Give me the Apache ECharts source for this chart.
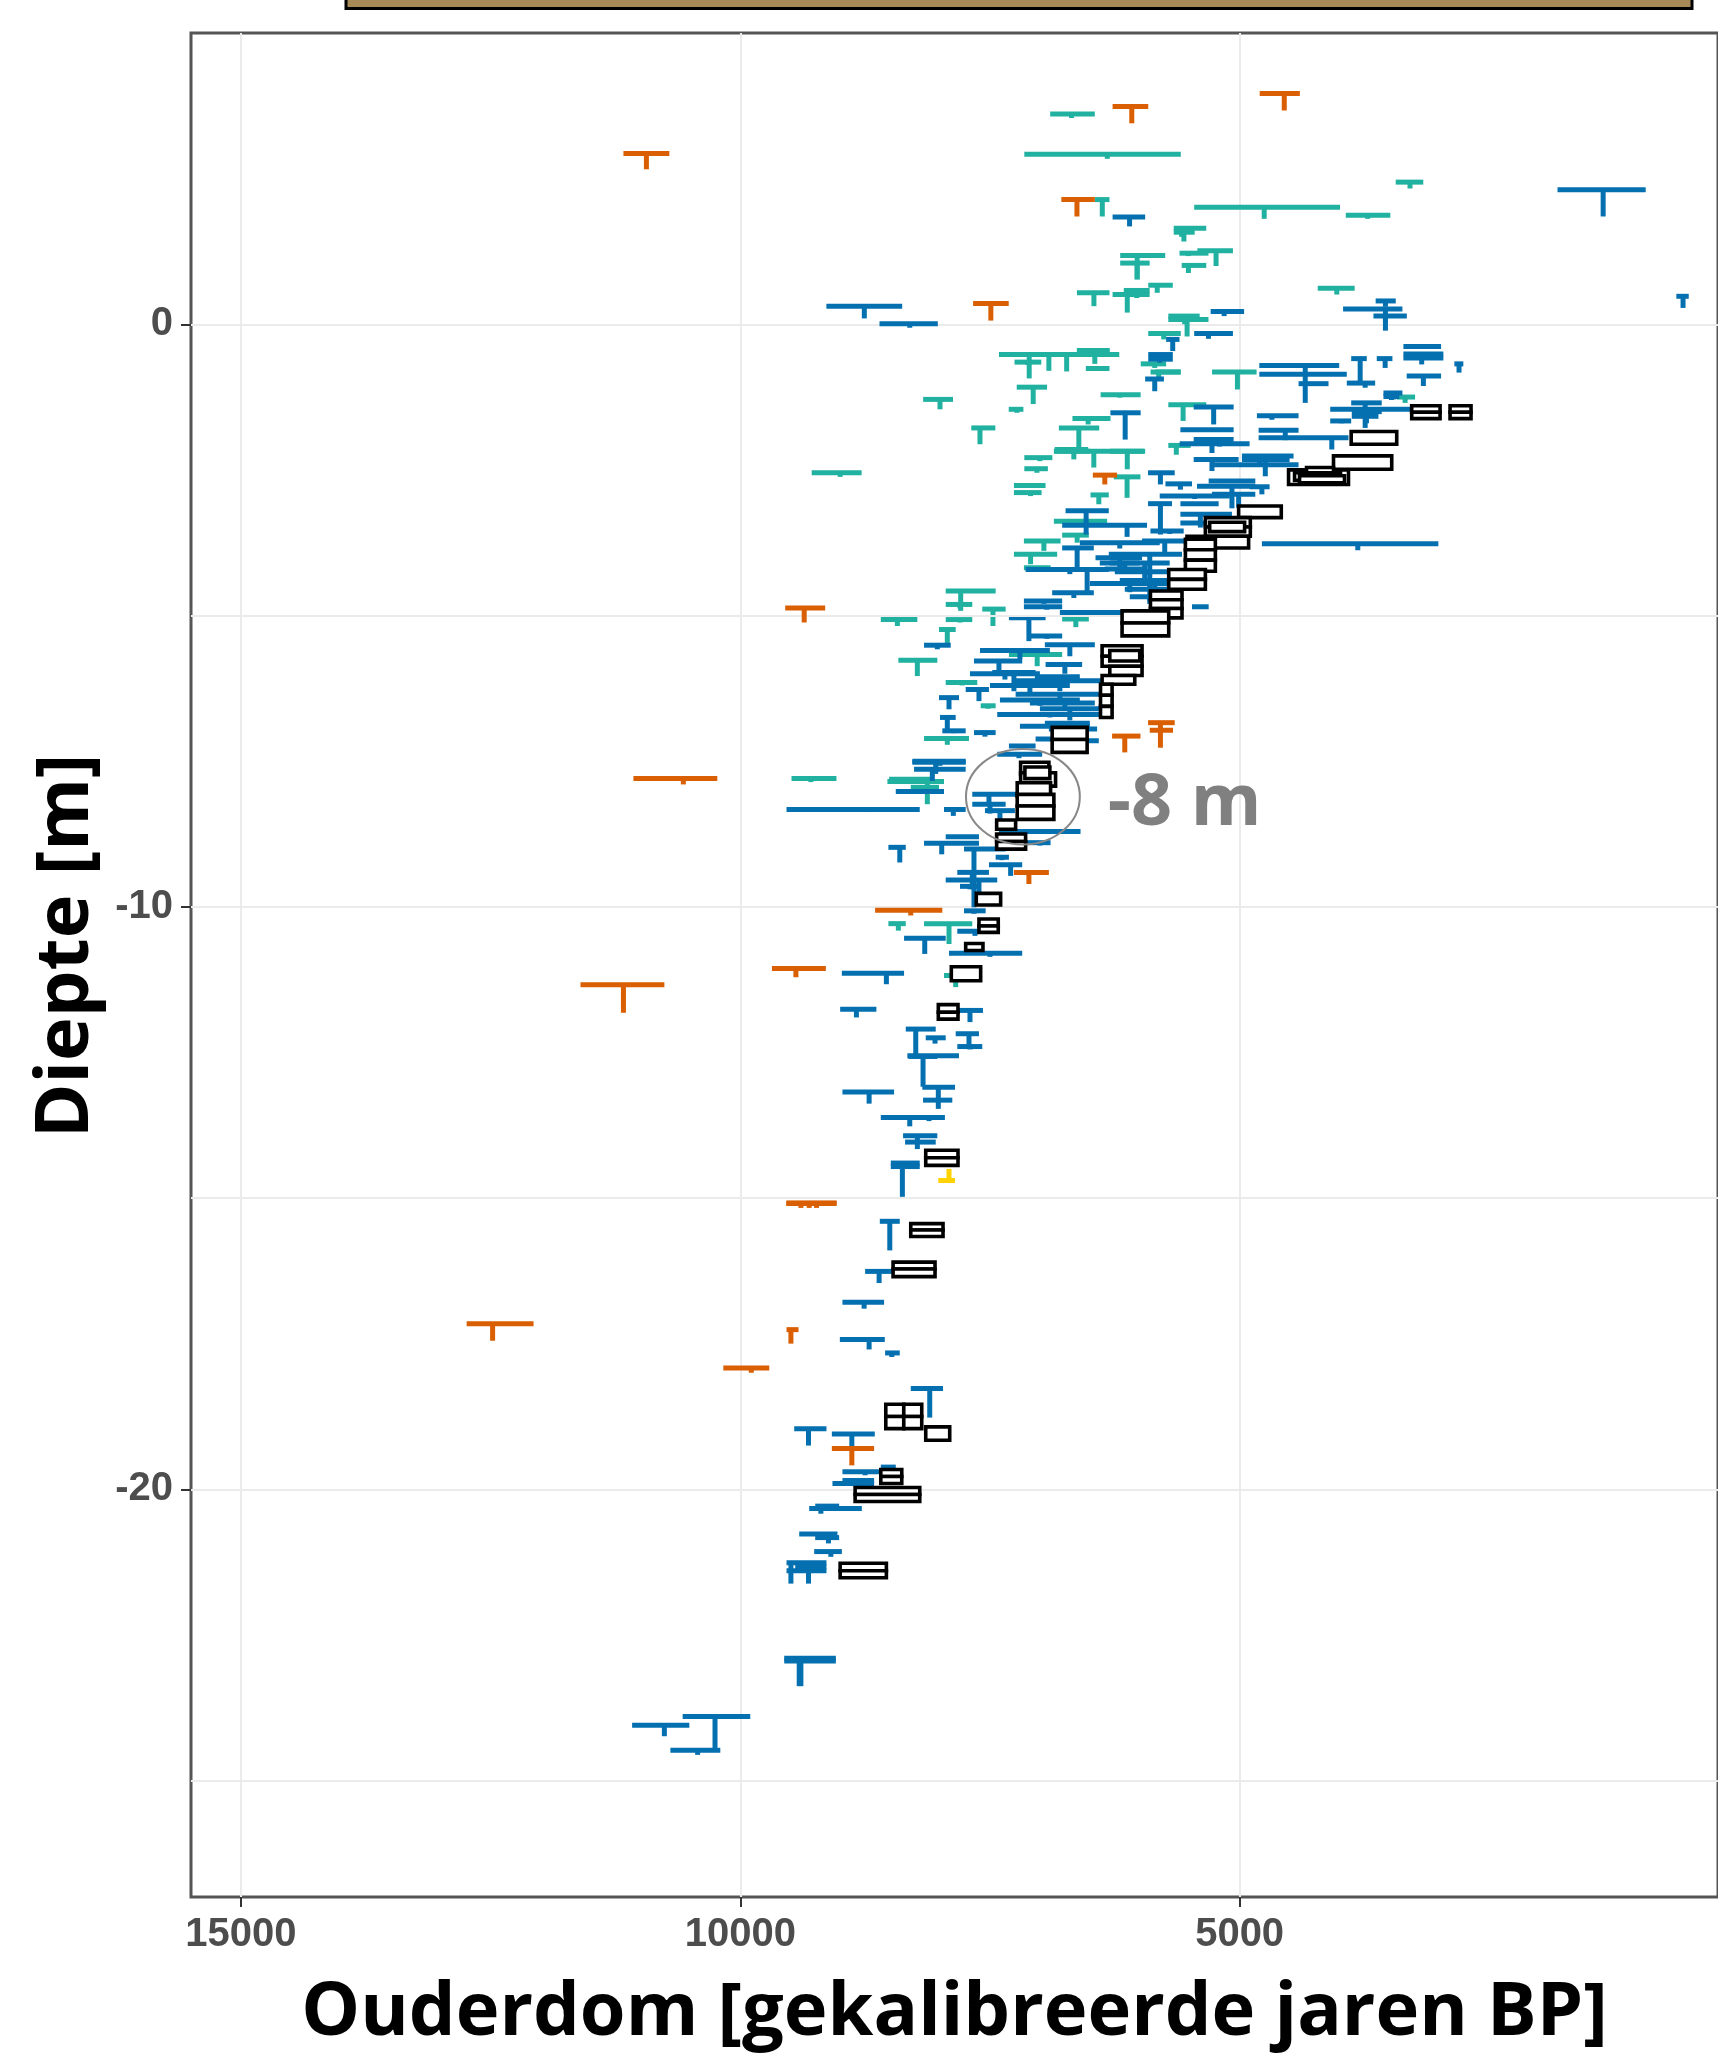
<!DOCTYPE html>
<html><head><meta charset="utf-8">
<script src="https://cdn.jsdelivr.net/npm/echarts@6/dist/echarts.min.js"></script>
<style>html,body{margin:0;padding:0;background:#fff}#c{width:1718px;height:2061px}</style>
</head><body><div id="c"></div>
<script>
// ---- tick values ----
const xTickValues = [5000, 10000, 15000];
const yTickValues = [-20, -10, 0];
const yMinorGrid = [-25, -15, -5];

// ---- T marks: [oldest age, youngest age, age of stem, depth of bar (m), depth of stem end (m)] ----
const tealMarks = [
[6897,6450,6683,3.61,3.54],[7156,5589,6325,2.92,2.84],[6450,6303,6375,2.14,1.85],[5455,3995,4754,2.01,1.81],
[3937,3491,3718,1.87,1.81],[3437,3161,3294,2.44,2.33],[5660,5334,5558,1.65,1.42],[5660,5450,5580,1.58,1.50],
[6196,5745,6026,1.18,0.77],[6196,5901,6026,1.05,0.77],[5423,5067,5236,1.26,1.00],[5602,5312,5513,1.22,1.17],
[5580,5334,5513,1.01,0.88],[4218,3848,4027,0.62,0.51],[6629,6303,6459,0.54,0.31],[6272,5901,6125,0.51,0.20],
[6160,5901,6030,0.58,0.45],[5915,5669,5825,0.67,0.54],[5714,5312,5526,0.08,-0.21],[5714,5400,5550,0.14,0.00],
[5915,5589,5760,-0.16,-0.26],[7410,6205,7107,-0.52,-0.93],[7300,6500,6910,-0.52,-0.80],[7200,6300,6732,-0.52,-0.81],
[6630,6300,6450,-0.45,-0.68],[7254,6986,7120,-0.65,-0.70],[6540,6303,6420,-0.76,-0.80],[5990,5736,5850,-0.68,-0.75],
[5892,5589,5810,-0.82,-0.93],[5843,5593,5720,-0.82,-0.85],[5276,4830,5022,-0.82,-1.12],[7232,6928,7067,-1.08,-1.37],
[6392,5991,6200,-1.21,-1.26],[8169,7870,8000,-1.29,-1.46],[7312,7165,7230,-1.46,-1.52],[5714,5334,5566,-1.38,-1.66],
[6674,6293,6517,-1.62,-1.72],[6810,6406,6610,-1.78,-2.15],[7687,7446,7600,-1.78,-2.06],[6860,5960,6460,-2.18,-2.46],
[6852,6500,6660,-2.18,-2.32],[6300,5946,6125,-2.18,-2.49],[6852,6517,6700,-2.15,-2.20],[5714,5490,5634,-2.08,-2.24],
[7156,6875,7000,-2.29,-2.35],[7156,6920,7030,-2.48,-2.55],[9285,8785,9000,-2.55,-2.62],[7260,6943,7093,-2.77,-2.80],
[7260,6983,7093,-2.89,-2.95],[6260,5993,6127,-2.62,-2.98],[6493,6310,6410,-2.93,-3.09],[3427,3243,3343,-1.25,-1.35],
[6860,6327,6600,-3.38,-3.40],[6777,6510,6627,-3.62,-3.75],[7160,6793,6960,-3.72,-3.89],[7260,6827,7093,-3.95,-4.12],
[7160,6893,7000,-4.18,-4.22],[7943,7443,7793,-4.58,-4.92],[7943,7677,7800,-4.81,-4.88],[7577,7343,7470,-4.89,-5.18],
[8593,8227,8427,-5.07,-5.18],[7943,7677,7800,-5.07,-5.12],[8010,7843,7927,-5.24,-5.52],[8417,8027,8227,-5.77,-6.04],
[7310,6777,7027,-5.67,-5.87],[7943,7627,7780,-6.15,-6.20],[7593,7443,7520,-6.55,-6.60],[8160,7710,7927,-7.11,-7.22],
[8510,8077,8300,-7.81,-7.85],[9487,9037,9293,-7.80,-7.86],[8527,7960,8127,-7.85,-8.24],[8293,8010,8150,-7.95,-8.00],
[8517,8343,8417,-10.29,-10.41],[8160,7677,7910,-10.29,-10.64],[7960,7777,7843,-11.18,-11.38],[6777,6510,6640,-5.06,-5.20]
];
const blueMarks = [
[1817,934,1360,2.31,1.85],[627,503,560,0.48,0.28],[6272,5946,6102,1.84,1.68],[9138,8379,8758,0.31,0.10],
[8606,8022,8303,0.01,-0.06],[5290,4955,5155,0.22,0.14],[5455,5067,5312,-0.16,-0.25],[5736,5602,5670,-0.26,-0.46],
[3964,3370,3540,0.26,-0.11],[3638,3437,3540,0.40,0.30],[3660,3326,3540,0.14,0.05],[5915,5669,5800,-0.52,-0.60],
[5915,5669,5800,-0.60,-0.66],[5946,5758,5850,-0.94,-1.15],[6294,5991,6146,-1.52,-1.98],[4803,4003,4343,-0.71,-1.35],
[4803,3927,4343,-0.86,-0.90],[4410,4110,4250,-1.02,-1.05],[3927,3643,3743,-1.01,-1.09],[3883,3727,3793,-0.59,-0.98],
[3627,3470,3543,-0.59,-0.75],[3360,2983,3177,-0.38,-0.42],[3360,2960,3177,-0.51,-0.69],[3360,2960,3177,-0.58,-0.60],
[3327,2983,3160,-0.89,-1.06],[2850,2760,2803,-0.68,-0.83],[3560,3370,3460,-1.18,-1.29],[3560,3400,3480,-1.24,-1.30],
[3883,3577,3743,-1.35,-1.78],[4093,3060,3743,-1.46,-1.50],[4093,3883,3977,-1.66,-1.70],[3877,3610,3743,-1.58,-1.62],
[3877,3577,3730,-1.50,-1.70],[5460,5060,5260,-1.42,-1.72],[4827,4410,4677,-1.57,-1.64],[4810,4410,4543,-1.82,-1.99],
[4810,3910,4077,-1.95,-2.15],[5593,5060,5277,-1.81,-1.83],[5460,5060,5277,-1.98,-2.21],[5460,5010,5277,-2.32,-2.52],
[4977,4460,4743,-2.26,-2.45],[5277,4410,4743,-2.41,-2.61],[4977,4500,4800,-2.32,-2.40],[5917,5650,5793,-2.55,-2.75],
[5743,5477,5593,-2.74,-2.84],[5427,4843,5077,-2.78,-3.16],[5277,4843,5010,-2.92,-3.15],[5310,4843,5077,-2.69,-2.72],
[4900,4700,4777,-2.79,-2.92],[6743,6310,6537,-3.20,-3.61],[6777,5927,6127,-3.45,-3.65],[5917,5677,5793,-3.08,-3.61],
[5593,5210,5400,-3.08,-3.12],[5593,5077,5393,-3.26,-3.40],[5593,5077,5393,-3.41,-3.49],[5893,5560,5700,-3.55,-3.60],
[6777,6460,6627,-3.84,-4.18],[6443,5977,6200,-4.01,-4.24],[6400,6000,6150,-4.10,-4.20],[6350,5950,6100,-4.20,-4.26],
[5977,5543,5750,-3.72,-3.95],[4777,3010,3817,-3.77,-3.88],[7143,6310,6700,-4.21,-4.29],[6700,6400,6527,-4.21,-4.64],
[6310,5577,5900,-3.95,-4.30],[6300,5700,5950,-4.10,-4.40],[6250,5650,5900,-4.25,-4.55],[6200,5600,5850,-4.40,-4.70],
[6150,5650,5900,-4.55,-4.75],[6100,5700,5900,-4.68,-4.80],[6877,6460,6660,-4.61,-4.70],[7160,6777,6960,-4.75,-4.80],
[7160,6777,6930,-4.85,-4.90],[7310,6943,7110,-5.04,-5.44],[7110,6777,6930,-5.35,-5.40],[5477,5310,5400,-4.85,-4.88],
[8160,7893,8027,-5.51,-5.58],[7660,7177,7410,-5.78,-5.95],[7477,7043,7260,-5.98,-6.30],[7243,6377,6800,-6.12,-6.30],
[6943,6577,6750,-5.84,-6.00],[7743,7510,7610,-6.27,-6.47],[8010,7810,7910,-6.41,-6.61],[7427,6377,6900,-6.70,-6.75],
[7243,6400,6800,-6.35,-6.50],[7100,6450,6750,-6.50,-6.60],[7000,6400,6700,-6.60,-6.80],[6950,6500,6700,-6.85,-6.95],
[8000,7843,7927,-6.75,-7.01],[7977,7743,7860,-6.98,-7.02],[7660,7443,7550,-7.01,-7.08],[6910,6427,6677,-6.95,-7.05],
[7043,6610,6810,-7.12,-7.20],[6577,6410,6543,-7.15,-7.38],[7310,7043,7177,-7.24,-7.30],[8277,7743,8000,-7.50,-7.58],
[8260,7743,8077,-7.64,-7.84],[7427,6977,7210,-7.38,-7.45],[8277,7743,8043,-7.52,-7.72],[8443,7960,8200,-8.02,-8.06],
[9537,8203,8700,-8.33,-8.36],[7960,7743,7867,-8.33,-8.44],[7677,7210,7510,-8.07,-8.25],[7677,7343,7500,-8.24,-8.40],
[7550,7250,7400,-8.35,-8.50],[8160,7610,7983,-8.91,-9.10],[7943,7610,7780,-8.80,-8.83],[7760,7343,7660,-9.01,-10.01],
[7410,6593,7000,-8.71,-8.75],[7143,6893,7000,-8.90,-8.95],[8517,8343,8403,-8.98,-9.24],[7510,7177,7293,-9.28,-9.47],
[7443,7310,7380,-9.15,-9.20],[7827,7510,7677,-9.41,-9.70],[7943,7427,7610,-9.54,-9.90],[7800,7600,7700,-9.65,-9.70],
[7760,7543,7660,-10.07,-10.12],[8360,7943,8153,-10.54,-10.81],[7827,7477,7650,-10.42,-10.50],[7910,7177,7500,-10.80,-10.86],
[8983,8360,8537,-11.14,-11.33],[9000,8637,8837,-11.76,-11.90],[7820,7570,7700,-11.78,-11.98],[8343,8043,8243,-12.10,-12.58],
[8143,7943,8050,-12.25,-12.35],[7843,7610,7710,-12.18,-12.41],[7827,7577,7700,-12.40,-12.45],[8327,7810,8100,-12.56,-12.60],
[8317,8027,8170,-12.57,-13.09],[8177,7850,8017,-13.10,-13.47],[8170,7877,8017,-13.32,-13.35],[8977,8460,8710,-13.18,-13.38],
[8593,7953,8303,-13.62,-13.77],[8300,7953,8110,-13.62,-13.68],[8370,8027,8227,-13.93,-14.04],[8350,8043,8227,-14.04,-14.16],
[8493,8203,8377,-14.40,-14.98],[8493,8203,8377,-14.46,-14.50],[8603,8403,8503,-15.40,-15.90],[8750,8477,8610,-16.26,-16.46],
[8977,8560,8760,-16.79,-16.90],[9003,8553,8710,-17.43,-17.60],[8550,8403,8483,-17.66,-17.73],[8293,7970,8103,-18.27,-18.77],
[9460,9137,9317,-18.96,-19.25],[9083,8653,8883,-19.05,-19.29],[8977,8610,8750,-19.70,-19.76],[8593,8443,8520,-19.62,-19.68],
[9077,8660,8850,-19.90,-19.95],[8977,8660,8800,-19.85,-19.88],[9310,8783,9193,-20.33,-20.42],[9250,9010,9130,-20.29,-20.32],
[9410,9027,9117,-20.77,-20.93],[9250,9010,9100,-20.83,-20.86],[9260,8983,9093,-21.07,-21.16],[9537,9137,9493,-21.26,-21.62],
[9537,9137,9317,-21.40,-21.62],[9450,9137,9300,-21.33,-21.40],[9560,9043,9393,-22.90,-23.38],[9560,9043,9410,-22.95,-23.38],
[11083,10510,10760,-24.05,-24.24],[10577,9900,10253,-23.90,-24.45],[10700,10200,10427,-24.48,-24.56],
[7600,6900,7200,-5.60,-5.75],[7500,6700,7100,-6.20,-6.35],[7400,6600,7000,-6.45,-6.55],[7200,6500,6850,-6.90,-7.00],
[7700,7000,7350,-6.00,-6.10],[6600,5800,6200,-3.75,-3.85],[6500,5700,6100,-4.45,-4.60],[6800,6000,6400,-4.95,-5.00],
[5600,4900,5200,-2.05,-2.10],[5800,5100,5450,-2.95,-3.00],[6950,6450,6700,-5.50,-5.70],[7050,6600,6800,-6.05,-6.12]
];
const orangeMarks = [
[6272,5915,6080,3.74,3.45],[4799,4397,4553,3.96,3.67],[6785,6450,6629,2.14,1.85],[7669,7312,7491,0.355,0.063],
[11170,10710,10940,2.93,2.66],[6470,6227,6350,-2.59,-2.75],[9550,9150,9360,-4.87,-5.12],[6277,5993,6150,-7.07,-7.35],
[5917,5650,5793,-6.84,-7.27],[5900,5667,5793,-6.97,-7.00],[11070,10230,10570,-7.80,-7.90],[7260,6910,7110,-9.41,-9.61],
[8650,7977,8293,-10.06,-10.15],[9683,9143,9443,-11.06,-11.21],[11600,10760,11170,-11.34,-11.82],[9537,9037,9393,-15.09,-15.17],
[9537,9037,9310,-15.09,-15.17],[9537,9037,9237,-15.09,-15.17],[12740,12070,12480,-17.16,-17.45],[9537,9417,9493,-17.26,-17.50],
[10170,9710,9890,-17.92,-18.00],[9083,8660,8883,-19.30,-19.59]
];
const yellowMarks = [
[8017,7850,7910,-14.70,-14.50]
];
// ---- boxes: [oldest age, youngest age, top depth, bottom depth] ----
const boxMarks = [
[3277,2993,-1.40,-1.51],[3277,2993,-1.51,-1.62],[2893,2683,-1.40,-1.51],[2893,2683,-1.51,-1.62],
[3883,3427,-1.84,-2.06],[4060,3477,-2.26,-2.49],[4510,3910,-2.50,-2.75],[4330,4060,-2.46,-2.56],
[4450,3990,-2.55,-2.68],[5010,4583,-3.12,-3.32],[5343,4893,-3.32,-3.48],[5343,4893,-3.48,-3.64],
[5527,4910,-3.64,-3.84],[5543,5243,-3.69,-3.87],[5543,5243,-3.87,-4.05],[5543,5243,-4.05,-4.24],
[5710,5343,-4.21,-4.38],[5710,5343,-4.38,-4.55],[5893,5577,-4.58,-4.73],[5893,5577,-4.73,-4.88],
[5893,5577,-4.88,-5.04],[6177,5710,-4.92,-5.13],[6177,5710,-5.13,-5.35],[6377,5977,-5.52,-5.70],
[6377,5977,-5.70,-5.87],[6300,5977,-5.87,-6.03],[6377,6050,-6.03,-6.18],[6393,6277,-6.18,-6.37],
[6393,6277,-6.37,-6.56],[6393,6277,-6.56,-6.75],[6877,6527,-6.92,-7.13],[6877,6527,-7.13,-7.35],
[7193,6910,-7.52,-7.72],[7193,6843,-7.70,-7.93],[7227,6893,-7.87,-8.10],[7227,6860,-8.07,-8.27],
[7227,6860,-8.27,-8.50],[7433,7243,-8.51,-8.67],[7433,7143,-8.75,-8.88],[7433,7143,-8.88,-9.01],
[7637,7393,-9.77,-9.97],[7610,7417,-10.21,-10.33],[7610,7417,-10.33,-10.44],[7743,7570,-10.63,-10.75],
[7887,7593,-11.03,-11.27],[8017,7820,-11.68,-11.81],[8017,7820,-11.81,-11.93],[8143,7820,-14.18,-14.31],
[8143,7820,-14.31,-14.44],[8293,7970,-15.44,-15.55],[8293,7970,-15.55,-15.66],[8470,8050,-16.10,-16.22],
[8470,8050,-16.22,-16.35],[8543,8363,-18.54,-18.75],[8363,8183,-18.54,-18.75],[8543,8363,-18.75,-18.96],
[8363,8183,-18.75,-18.96],[8143,7903,-18.93,-19.16],[8593,8383,-19.66,-19.78],[8593,8383,-19.78,-19.90],
[8850,8203,-19.97,-20.09],[8850,8203,-20.09,-20.21],[9000,8537,-21.27,-21.40],[9000,8537,-21.40,-21.52],
[4400,3950,-2.60,-2.72],[5300,4950,-3.40,-3.56],[6300,6000,-5.60,-5.78],[7150,6900,-7.60,-7.80]
];
// ---- annotation: ellipse [centre age, centre depth, half-width (yr), half-height (m)] and label ----
const annoEllipse = [[7170, -8.11, 570, 0.82]];
const annoLabel = [[6320, -8.25, '-8 m']];

const TEAL = '#21B1A1', BLUE = '#0570B0', ORANGE = '#D95F02', YELLOW = '#FFD200';

function tRender(color) {
  return function (params, api) {
    const a1 = api.value(0), a2 = api.value(1), am = api.value(2), d = api.value(3), db = api.value(4);
    const p1 = api.coord([a1, d]), p2 = api.coord([a2, d]);
    const s1 = api.coord([am, d]), s2 = api.coord([am, db]);
    return {
      type: 'group',
      children: [
        { type: 'line', shape: { x1: p1[0], y1: p1[1], x2: p2[0], y2: p2[1] }, style: { stroke: color, lineWidth: 5 } },
        { type: 'line', shape: { x1: s1[0], y1: s1[1], x2: s2[0], y2: s2[1] }, style: { stroke: color, lineWidth: 5 } }
      ]
    };
  };
}
function boxRender(params, api) {
  const p1 = api.coord([api.value(0), api.value(2)]);
  const p2 = api.coord([api.value(1), api.value(3)]);
  return {
    type: 'rect',
    shape: { x: Math.min(p1[0], p2[0]), y: Math.min(p1[1], p2[1]), width: Math.abs(p2[0] - p1[0]), height: Math.abs(p2[1] - p1[1]) },
    style: { fill: '#ffffff', stroke: '#000000', lineWidth: 3.6 }
  };
}
function tSeries(name, data, color, z) {
  return { name, type: 'custom', renderItem: tRender(color), data, encode: { x: [0, 1, 2], y: [3, 4] }, silent: true, z, clip: true };
}

const chart = echarts.init(document.getElementById('c'), null, { renderer: 'canvas' });
const labelFont = { fontFamily: 'Liberation Sans', fontWeight: 'bold', fontSize: 40, color: '#4D4D4D' };
const titleFont = { fontFamily: 'Open Sans', fontWeight: 'bold', fontSize: 74, color: '#000000' };
chart.setOption({
  animation: false,
  backgroundColor: '#ffffff',
  grid: { left: 191, top: 33, right: -2, bottom: 164, show: true, borderColor: '#555555', borderWidth: 3, backgroundColor: 'rgba(0,0,0,0)' },
  graphic: [
    { type: 'rect', shape: { x: 346, y: -12, width: 1346, height: 20.5 }, style: { fill: '#A78A56', stroke: '#000000', lineWidth: 3 }, z: 100 }
  ],
  xAxis: {
    type: 'value', inverse: true, min: 210, max: 15500, position: 'bottom',
    axisLine: { show: false, onZero: false },
    axisTick: { show: true, customValues: xTickValues, length: 10, lineStyle: { color: '#333333', width: 2 } },
    axisLabel: Object.assign({ customValues: xTickValues, margin: 18, formatter: v => String(v) }, labelFont),
    splitLine: { show: true, lineStyle: { color: '#EBEBEB', width: 2 } },
    name: 'Ouderdom [gekalibreerde jaren BP]', nameLocation: 'middle', nameGap: 80,
    nameTextStyle: titleFont
  },
  yAxis: {
    type: 'value', min: -27, max: 5, position: 'left',
    axisLine: { show: false, onZero: false },
    axisTick: { show: true, customValues: yTickValues, length: 10, lineStyle: { color: '#333333', width: 2 } },
    axisLabel: Object.assign({ customValues: yTickValues, margin: 18, formatter: v => String(v) }, labelFont),
    splitLine: { show: true, lineStyle: { color: '#EBEBEB', width: 2 } },
    name: 'Diepte [m]', nameLocation: 'middle', nameGap: 82,
    nameTextStyle: Object.assign({ padding: [0, 0, 0, 38] }, titleFont)
  },
  series: [
    {
      type: 'line', data: [], z: 1, silent: true,
      markLine: { silent: true, symbol: ['none', 'none'], label: { show: false }, animation: false,
        lineStyle: { color: '#EBEBEB', width: 2, type: 'solid' },
        data: yMinorGrid.map(v => ({ yAxis: v })) }
    },
    tSeries('teal', tealMarks, TEAL, 3),
    tSeries('blue', blueMarks, BLUE, 4),
    tSeries('orange', orangeMarks, ORANGE, 5),
    tSeries('yellow', yellowMarks, YELLOW, 5),
    { name: 'boxes', type: 'custom', renderItem: boxRender, data: boxMarks, encode: { x: [0, 1], y: [2, 3] }, silent: true, z: 6 },
    {
      name: 'ellipse', type: 'custom', silent: true, z: 7, data: annoEllipse, encode: { x: 0, y: 1 },
      renderItem: function (params, api) {
        const c = api.coord([api.value(0), api.value(1)]);
        const s = api.size([api.value(2), api.value(3)]);
        return { type: 'ellipse', shape: { cx: c[0], cy: c[1], rx: s[0], ry: s[1] }, style: { fill: 'none', stroke: '#888888', lineWidth: 2 } };
      }
    },
    {
      name: 'label', type: 'custom', silent: true, z: 7, data: annoLabel, encode: { x: 0, y: 1 },
      renderItem: function (params, api) {
        const c = api.coord([api.value(0), api.value(1)]);
        return { type: 'text', x: c[0], y: c[1], style: { text: annoLabel[params.dataIndex][2], fontFamily: 'Open Sans', fontWeight: 'bold', fontSize: 72, fill: '#808080', align: 'left', verticalAlign: 'middle' } };
      }
    }
  ]
});
</script>
</body></html>
